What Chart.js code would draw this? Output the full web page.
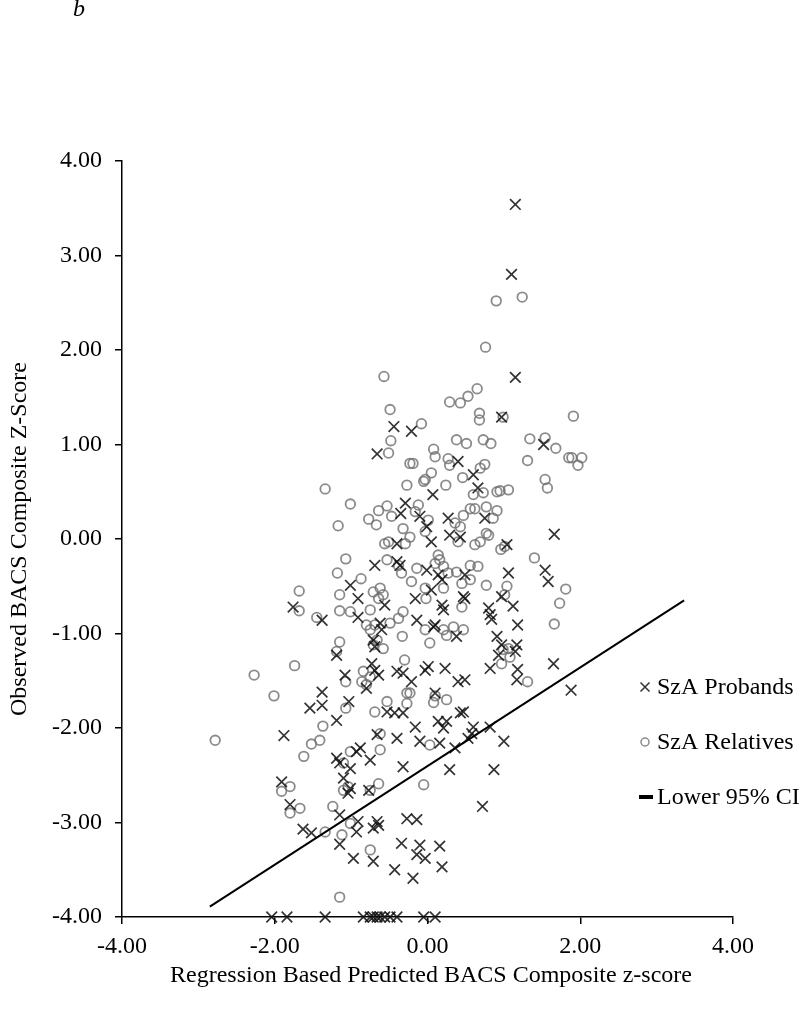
<!DOCTYPE html>
<html>
<head>
<meta charset="utf-8">
<title>BACS composite scatter</title>
<script src="https://cdn.jsdelivr.net/npm/chart.js@4.4.1/dist/chart.umd.min.js"></script>
<style>
    html, body { margin: 0; padding: 0; background: #fff; }
    canvas { display: block; }
</style>
</head>
<body>
<canvas id="bacsChart" width="800" height="1014"></canvas>
<script>
// Axis ticks
const xTickValues = [-4, -2, 0, 2, 4];
const yTickValues = [-4, -3, -2, -1, 0, 1, 2, 3, 4];

// SzA Probands: [predicted, observed]
const probands = [
    [1.15, 3.54], [1.10, 2.80], [1.15, 1.71], [0.97, 1.29], [1.52, 1.00], [0.40, 0.82], [0.60, 0.68],
    [0.66, 0.54], [0.07, 0.47], [0.27, 0.22], [0.75, 0.22], [1.66, 0.05], [0.29, 0.04],
    [-0.44, 1.19], [-0.21, 1.14], [-0.66, 0.90], [-0.29, 0.38], [-0.35, 0.27], [-0.10, 0.24], [-0.01, 0.13],
    [-0.69, -0.28], [-0.40, -0.24], [-0.36, -0.28], [-0.01, -0.33], [0.05, -0.03], [0.43, 0.02], [-0.40, -0.05],
    [-1.01, -0.49], [-0.91, -0.63], [-0.56, -0.70], [-0.16, -0.63], [0.19, -0.70], [0.21, -0.75], [0.49, -0.63],
    [-1.76, -0.72], [-1.38, -0.86], [-0.91, -0.83], [-0.62, -0.89], [-0.60, -0.96], [-0.14, -0.86], [0.10, -0.91],
    [0.38, -1.03], [-0.71, -1.07], [-0.69, -1.14], [-1.19, -1.23], [-1.08, -1.44], [-0.73, -1.32], [-0.69, -1.39],
    [-0.64, -1.44], [-0.40, -1.40], [-0.32, -1.42], [-0.21, -1.51], [-0.03, -1.39], [0.01, -1.35], [0.23, -1.37],
    [0.40, -1.51], [0.49, -1.49], [-0.80, -1.58], [-1.38, -1.62], [-1.38, -1.76], [-1.54, -1.79], [-1.03, -1.72],
    [-1.19, -1.92], [-1.88, -2.08], [-0.53, -1.83], [-0.43, -1.84], [-0.32, -1.84], [0.10, -1.63], [0.14, -1.93],
    [0.25, -1.93], [0.21, -2.00], [-0.16, -1.99], [-0.40, -2.11], [-0.10, -2.14], [-0.66, -2.07],
    [-0.93, -2.25], [-0.88, -2.21], [-0.75, -2.34], [-1.19, -2.32], [-1.15, -2.37], [-1.01, -2.43], [-1.10, -2.53],
    [-0.32, -2.41], [0.29, -2.44], [0.47, -1.83], [0.16, -2.16], [0.36, -2.21],
    [-1.91, -2.57], [-1.80, -2.81], [-1.01, -2.64], [-1.04, -2.69], [-0.77, -2.66], [-1.15, -2.92], [-1.63, -3.07],
    [-1.52, -3.11], [-0.91, -2.99], [-0.93, -3.10], [-0.66, -2.99], [-0.71, -3.06], [-0.64, -3.03], [-0.27, -2.96],
    [-0.14, -2.97], [-1.15, -3.23], [-0.97, -3.38], [-0.71, -3.41], [-0.34, -3.22], [-0.10, -3.24], [-0.14, -3.34],
    [-0.03, -3.38], [0.16, -3.25], [0.19, -3.47], [-0.43, -3.50], [-0.19, -3.59],
    [1.04, -0.06], [1.06, -0.36], [1.54, -0.33], [1.58, -0.45], [0.47, -0.61], [0.80, -0.73], [0.82, -0.80],
    [0.84, -0.85], [0.97, -0.61], [1.12, -0.71], [1.18, -0.91], [0.08, -0.93], [0.91, -1.03], [0.97, -1.12],
    [0.93, -1.23], [1.17, -1.12], [1.15, -1.19], [1.18, -1.38], [1.65, -1.32], [1.88, -1.60], [0.82, -1.37],
    [1.17, -1.49], [0.43, -1.84], [0.60, -1.99], [0.58, -2.06], [0.53, -2.11], [0.82, -1.99], [1.00, -2.14],
    [0.87, -2.44], [0.72, -2.83], [0.14, -0.38], [0.19, -0.43], [0.49, -0.38], [0.05, -0.54],
    // floor values sitting on the x axis
    [-2.04, -4], [-1.84, -4], [-1.34, -4], [-0.84, -4], [-0.75, -4], [-0.71, -4], [-0.66, -4],
    [-0.62, -4], [-0.56, -4], [-0.49, -4], [-0.40, -4], [-0.05, -4], [0.10, -4]
];

// SzA Relatives: [predicted, observed]
const relatives = [
    [0.90, 2.52], [1.24, 2.56], [0.76, 2.03], [0.65, 1.59], [0.53, 1.51], [0.43, 1.44], [0.29, 1.45],
    [0.68, 1.33], [0.68, 1.26], [0.99, 1.29], [1.91, 1.30], [-0.08, 1.22], [0.38, 1.05], [0.51, 1.01],
    [0.73, 1.05], [0.83, 1.01], [1.34, 1.06], [1.54, 1.07], [1.68, 0.96], [1.85, 0.86], [1.89, 0.86],
    [2.02, 0.86], [1.97, 0.78], [1.31, 0.83], [0.08, 0.95], [0.10, 0.87], [0.27, 0.85], [0.29, 0.78],
    [0.75, 0.79], [0.69, 0.75], [0.05, 0.70], [-0.03, 0.63], [-0.05, 0.61], [0.24, 0.57], [0.46, 0.65],
    [1.54, 0.63], [1.57, 0.54], [0.60, 0.47], [0.73, 0.49], [0.91, 0.50], [0.95, 0.51], [1.06, 0.52],
    [0.56, 0.32], [0.62, 0.32], [0.77, 0.34], [0.91, 0.30], [0.47, 0.25], [0.36, 0.17], [0.43, 0.13],
    [0.86, 0.22], [0.77, 0.06], [0.01, 0.20],
    [-0.57, 1.72], [-0.49, 1.37], [-0.48, 1.04], [-0.51, 0.91], [-0.23, 0.80], [-0.19, 0.80], [-0.27, 0.57],
    [-1.34, 0.53], [-1.01, 0.37], [-0.64, 0.30], [-0.53, 0.35], [-0.77, 0.21], [-0.67, 0.15], [-1.17, 0.14],
    [-0.47, 0.24], [-0.12, 0.36], [-0.16, 0.29], [-0.32, 0.11],
    [-1.07, -0.21], [-1.18, -0.36], [-1.68, -0.55], [-1.68, -0.76], [-1.45, -0.83], [-1.15, -0.59], [-1.15, -0.76],
    [-1.01, -0.77], [-0.87, -0.42], [-0.53, -0.22], [-0.56, -0.05], [-0.51, -0.03], [-0.29, -0.05], [-0.23, 0.02],
    [-0.14, -0.31], [-0.21, -0.45], [-0.03, -0.52], [-0.02, -0.63], [-0.71, -0.56], [-0.62, -0.52], [-0.58, -0.59],
    [-0.64, -0.63], [-0.75, -0.75], [-0.80, -0.91], [-0.75, -0.96], [-0.69, -0.91], [-0.49, -0.89], [-0.38, -0.84],
    [-0.32, -0.77], [-0.33, -1.03], [0.03, -1.10], [-0.03, -0.96], [0.21, -0.96], [0.34, -0.93], [0.47, -0.96],
    [0.16, -0.22], [0.21, -0.29], [0.27, -0.36], [0.38, -0.35], [0.45, -0.72], [-1.15, -1.09], [-1.19, -1.19],
    [-0.58, -1.16], [-0.71, -1.12], [-0.66, -1.07], [-1.74, -1.34], [-2.27, -1.44], [-2.01, -1.66], [-2.78, -2.13],
    [-1.37, -1.98], [-1.52, -2.17], [-1.41, -2.13], [-1.62, -2.30], [-1.07, -1.79], [-1.07, -1.51], [-0.84, -1.40],
    [-0.75, -1.46], [-0.80, -1.54], [-0.86, -1.51], [-0.30, -1.28], [-0.27, -1.63], [-0.23, -1.63], [-0.27, -1.74],
    [-0.69, -1.83], [-0.53, -1.72], [0.08, -1.73], [0.25, -1.70], [-0.62, -2.06], [-0.62, -2.23], [-1.01, -2.25],
    [-1.10, -2.37], [-1.10, -2.66], [-1.04, -2.62], [-0.75, -2.66], [-0.64, -2.59], [-0.05, -2.60], [-1.80, -2.62],
    [-1.91, -2.67], [-1.80, -2.90], [-1.67, -2.85], [-1.24, -2.83], [-1.34, -3.10], [-1.12, -3.13], [-1.01, -3.01],
    [-0.75, -3.29], [-1.15, -3.79], [0.03, -2.18],
    [0.96, -0.11], [1.01, -0.08], [1.40, -0.20], [0.77, -0.49], [1.04, -0.50], [1.01, -0.59], [1.81, -0.53],
    [1.73, -0.68], [1.66, -0.90], [0.56, -0.28], [0.66, -0.29], [0.25, -1.02], [0.99, -1.17], [1.06, -1.16],
    [1.08, -1.25], [0.97, -1.32], [1.31, -1.51], [0.10, -1.66], [0.40, -0.03], [0.80, 0.04], [0.62, -0.06],
    [0.69, -0.03], [-0.03, 0.08], [-0.38, -0.28], [-0.34, -0.36], [0.14, -0.17], [0.10, -0.26], [0.45, -0.47],
    [0.56, -0.43], [0.21, -0.52]
];

// Lower 95% CI line end points
const ciLineX = [-2.85, 3.36];
const ciLineY = [-3.89, -0.65];

const xTitle = 'Regression Based Predicted BACS Composite z-score';
const yTitle = 'Observed BACS Composite Z-Score';
const panelLabel = 'b';

const FONT = '"Liberation Serif", "Times New Roman", serif';
const crossColor = 'rgba(15, 15, 15, 0.85)';
const circleColor = 'rgba(110, 110, 110, 0.8)';

// Titles, panel letter and the legend are drawn straight onto the canvas
const figureText = {
    id: 'figureText',
    afterDraw(chart) {
        const ctx = chart.ctx;
        ctx.save();
        ctx.fillStyle = '#000';

        ctx.font = `italic 24px ${FONT}`;
        ctx.textAlign = 'left';
        ctx.textBaseline = 'alphabetic';
        ctx.fillText(panelLabel, 73, 16);

        ctx.font = `24px ${FONT}`;
        ctx.textAlign = 'center';
        ctx.textBaseline = 'middle';
        ctx.fillText(xTitle, 431, 976);

        ctx.save();
        ctx.translate(20, 539);
        ctx.rotate(-Math.PI / 2);
        ctx.fillText(yTitle, 0, 0);
        ctx.restore();

        // legend
        const labels = chart.data.datasets.map(d => d.label);
        const rows = [687, 742, 797];
        const mx = 645;
        ctx.textAlign = 'left';

        ctx.strokeStyle = crossColor;
        ctx.lineWidth = 1.5;
        ctx.beginPath();
        ctx.moveTo(mx - 4.5, rows[0] - 4.5); ctx.lineTo(mx + 4.5, rows[0] + 4.5);
        ctx.moveTo(mx + 4.5, rows[0] - 4.5); ctx.lineTo(mx - 4.5, rows[0] + 4.5);
        ctx.stroke();

        ctx.strokeStyle = circleColor;
        ctx.lineWidth = 1.5;
        ctx.beginPath();
        ctx.arc(mx, rows[1], 4, 0, Math.PI * 2);
        ctx.stroke();

        ctx.fillStyle = '#000';
        ctx.fillRect(639, rows[2] - 2, 14, 4);

        labels.forEach((label, i) => ctx.fillText(label, 657, rows[i] + 1));
        ctx.restore();
    }
};

new Chart(document.getElementById('bacsChart'), {
    type: 'scatter',
    data: {
        datasets: [
            {
                label: 'SzA Probands',
                data: probands.map(([x, y]) => ({ x, y })),
                pointStyle: 'crossRot',
                pointRadius: 7.5,
                pointBorderWidth: 1.7,
                pointBorderColor: crossColor,
                pointBackgroundColor: 'transparent',
                clip: false,
                order: 1
            },
            {
                label: 'SzA Relatives',
                data: relatives.map(([x, y]) => ({ x, y })),
                pointStyle: 'circle',
                pointRadius: 4.8,
                pointBorderWidth: 1.8,
                pointBorderColor: circleColor,
                pointBackgroundColor: 'transparent',
                clip: false,
                order: 2
            },
            {
                label: 'Lower 95% CI',
                data: ciLineX.map((x, i) => ({ x, y: ciLineY[i] })),
                showLine: true,
                borderColor: '#000',
                borderWidth: 2,
                pointRadius: 0,
                fill: false,
                order: 0
            }
        ]
    },
    options: {
        responsive: false,
        animation: false,
        events: [],
        layout: { padding: { left: 52, right: 67, top: 161, bottom: 50 } },
        plugins: {
            legend: { display: false },
            tooltip: { enabled: false }
        },
        scales: {
            x: {
                type: 'linear',
                min: -4,
                max: 4,
                afterBuildTicks: scale => { scale.ticks = xTickValues.map(v => ({ value: v })); },
                afterFit: scale => { scale.height = 47; },
                border: { color: '#000', width: 1.5 },
                grid: { drawOnChartArea: false, drawTicks: true, tickLength: 7, color: '#000', lineWidth: 1.5 },
                ticks: {
                    color: '#000',
                    padding: 8,
                    font: { family: FONT, size: 24 },
                    maxRotation: 0,
                    callback: v => v.toFixed(2)
                }
            },
            y: {
                type: 'linear',
                min: -4,
                max: 4,
                afterBuildTicks: scale => { scale.ticks = yTickValues.map(v => ({ value: v })); },
                afterFit: scale => { scale.width = 70; },
                border: { color: '#000', width: 1.5 },
                grid: { drawOnChartArea: false, drawTicks: true, tickLength: 7, color: '#000', lineWidth: 1.5 },
                ticks: {
                    color: '#000',
                    padding: 13,
                    font: { family: FONT, size: 24 },
                    callback: v => v.toFixed(2)
                }
            }
        }
    },
    plugins: [figureText]
});
</script>
</body>
</html>
